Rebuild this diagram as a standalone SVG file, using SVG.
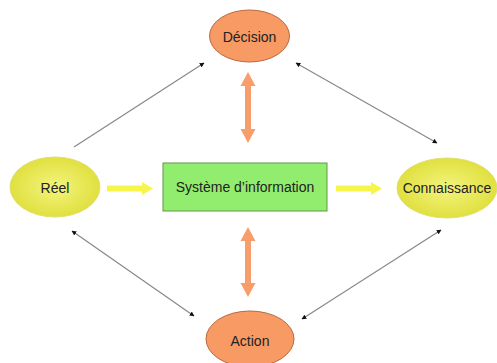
<svg xmlns="http://www.w3.org/2000/svg" width="497" height="363" viewBox="0 0 497 363">
<defs>
<radialGradient id="yg" cx="50%" cy="50%" r="50%">
<stop offset="0" stop-color="#F4F47E"/>
<stop offset="1" stop-color="#E0E040"/>
</radialGradient>
<marker id="ah" viewBox="0 0 10 10" refX="9" refY="5" markerWidth="4" markerHeight="4" orient="auto-start-reverse">
<path d="M0,0 L10,5 L0,10 z" fill="#111"/>
</marker>
<style>
.t{font-family:"Liberation Sans",Arial,sans-serif;font-size:14px;fill:#222;text-anchor:middle;dominant-baseline:central}
.org{fill:#F89A64;stroke:#B8683E;stroke-width:1}
.yel{fill:url(#yg);stroke:#E0E070;stroke-width:1}
.thin{stroke:#888;stroke-width:1.2;fill:none}
.oa{fill:#F89E6C}
.ya{fill:#F7F54C}
</style>
</defs>
<rect width="497" height="363" fill="#fff"/>
<g id="connectors">
<path class="thin" d="M74,147 L204,63" marker-end="url(#ah)"/>
<path class="thin" d="M296,63 L437,143" marker-start="url(#ah)" marker-end="url(#ah)"/>
<path class="thin" d="M72,231 L194,316" marker-start="url(#ah)" marker-end="url(#ah)"/>
<path class="thin" d="M302,319 L441,230" marker-start="url(#ah)" marker-end="url(#ah)"/>
<path class="oa" d="M248,72 L255.5,86 L251,86 L251,129 L255.5,129 L248,143 L240.5,129 L245,129 L245,86 L240.5,86 z"/>
<path class="oa" d="M248,227 L255.5,241 L251,241 L251,283 L255.5,283 L248,297 L240.5,283 L245,283 L245,241 L240.5,241 z"/>
<path class="ya" d="M107,185.5 L142,185.5 L142,182 L153,188.5 L142,195 L142,191.5 L107,191.5 z"/>
<path class="ya" d="M336,185.5 L371,185.5 L371,182 L382,188.5 L371,195 L371,191.5 L336,191.5 z"/>
</g>
<g id="decision">
<ellipse class="org" cx="249.5" cy="36" rx="40" ry="26"/>
<text class="t" x="249.5" y="37">Décision</text>
</g>
<g id="reel">
<ellipse class="yel" cx="55" cy="187" rx="45" ry="30"/>
<text class="t" x="55" y="188">Réel</text>
</g>
<g id="si">
<rect x="163" y="163" width="164" height="48" fill="#92EC6E" stroke="#5E9A48" stroke-width="1"/>
<text class="t" x="245" y="187">Système d’information</text>
</g>
<g id="connaissance">
<ellipse class="yel" cx="447" cy="188" rx="50" ry="30"/>
<text class="t" x="447" y="188">Connaissance</text>
</g>
<g id="action">
<ellipse class="org" cx="250" cy="339" rx="44" ry="28"/>
<text class="t" x="250" y="341">Action</text>
</g>
</svg>
